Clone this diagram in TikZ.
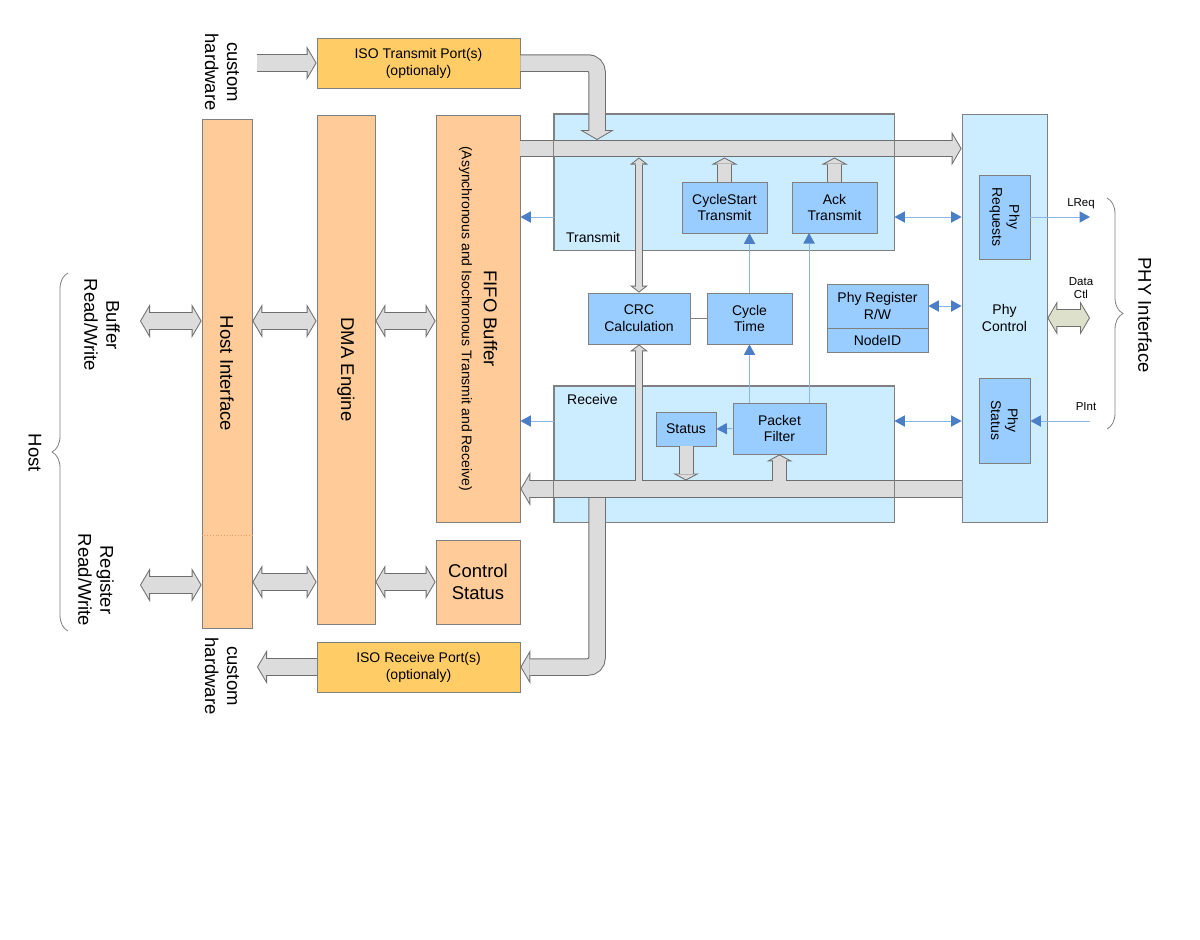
\documentclass[tikz,border=0pt]{standalone}
\usepackage{fontspec}
\setmainfont{Liberation Sans}
\usetikzlibrary{arrows.meta,decorations.pathreplacing}

\definecolor{peach}{HTML}{FFCC99}
\definecolor{isoyellow}{HTML}{FFCC66}
\definecolor{paleblue}{HTML}{CCECFF}
\definecolor{midblue}{HTML}{99CCFF}
\definecolor{boxline}{HTML}{808080}
\definecolor{pipefill}{HTML}{DCDCDC}
\definecolor{pipeline}{HTML}{6E6E6E}
\definecolor{ctlfill}{HTML}{DDE0CA}
\definecolor{wireblue}{HTML}{8DB4E2}
\definecolor{tipblue}{HTML}{4A7EC6}
\definecolor{splitline}{HTML}{D9A066}

\newcommand{\fsmall}{\fontsize{11.5}{13}\selectfont}
\newcommand{\fmid}{\fontsize{14}{16.8}\selectfont}
\newcommand{\fbig}{\fontsize{18.5}{22}\selectfont}

\begin{document}
\begin{tikzpicture}[x=1pt, y=-1pt, font=\fmid,
    hwbox/.style={draw=boxline, line width=0.8pt, inner sep=0pt, align=center},
    hostbox/.style={hwbox, fill=peach},
    isobox/.style={hwbox, fill=isoyellow},
    linkbox/.style={hwbox, fill=paleblue},
    unitbox/.style={hwbox, fill=midblue},
    vtext/.style={rotate=-90, align=center, inner sep=0pt},
    lbl/.style={inner sep=0pt, align=center},
    fatpipe/.style={draw=pipeline, line width=17.5pt,
        -{Triangle[length=10pt,width=34pt,line width=0pt]},
        postaction={draw=#1, line width=15.5pt, shorten >=1.16pt,
            -{Triangle[length=7.8pt,width=26.7pt,line width=0pt]}}},
    fatpipe/.default=pipefill,
    fatpipes/.style={draw=pipeline, line width=17.5pt,
        {Triangle[length=10pt,width=34pt,line width=0pt]}-{Triangle[length=10pt,width=34pt,line width=0pt]},
        postaction={draw=#1, line width=15.5pt, shorten >=1.16pt, shorten <=1.16pt,
            {Triangle[length=7.8pt,width=26.7pt,line width=0pt]}-{Triangle[length=7.8pt,width=26.7pt,line width=0pt]}}},
    fatpipes/.default=pipefill,
    midpipe/.style={draw=pipeline, line width=15pt,
        -{Triangle[length=7pt,width=26pt,line width=0pt]},
        postaction={draw=pipefill, line width=13pt, shorten >=1.14pt,
            -{Triangle[length=4.9pt,width=18.1pt,line width=0pt]}}},
    thinpipe/.style={draw=pipeline, line width=7.5pt,
        -{Triangle[length=7pt,width=18pt,line width=0pt]},
        postaction={draw=pipefill, line width=5.5pt, shorten >=1.27pt,
            -{Triangle[length=4.7pt,width=12.2pt,line width=0pt]}}},
    thinpipes/.style={draw=pipeline, line width=7.5pt,
        {Triangle[length=7pt,width=18pt,line width=0pt]}-{Triangle[length=7pt,width=18pt,line width=0pt]},
        postaction={draw=pipefill, line width=5.5pt, shorten >=1.27pt, shorten <=1.27pt,
            {Triangle[length=4.7pt,width=12.2pt,line width=0pt]}-{Triangle[length=4.7pt,width=12.2pt,line width=0pt]}}},
    wire/.style={draw=wireblue, line width=1pt,
        -{Triangle[length=10.5pt,width=11.5pt,line width=0pt,color=tipblue]}},
    wires/.style={draw=wireblue, line width=1pt,
        {Triangle[length=10.5pt,width=11.5pt,line width=0pt,color=tipblue]}-{Triangle[length=10.5pt,width=11.5pt,line width=0pt,color=tipblue]}},
    hwbrace/.style={draw=boxline, line width=0.8pt, decorate, decoration={brace, amplitude=16pt}}]

    \useasboundingbox (0,0) rectangle (1200,940);

    % Nodes {host side}
    \node [isobox,  minimum width=203, minimum height=50]  (isotx)  at (418.5,63)  {ISO Transmit Port(s)\\(optionaly)};
    \node [hostbox, minimum width=50,  minimum height=509,
           label={[vtext,font=\fbig]center:Host Interface}] (hostif) at (227,373.5) {};
    \node [hostbox, minimum width=58,  minimum height=509,
           label={[vtext,font=\fbig]center:DMA Engine}]     (dma)    at (346,369.5) {};
    \node [hostbox, minimum width=84,  minimum height=407,
           label={[vtext,font=\fbig]center:FIFO Buffer\\{\fmid (Asynchronous and Isochronous Transmit and Receive)}}] (fifo) at (478,318.5) {};
    \node [hostbox, minimum width=84,  minimum height=84, font=\fbig] (ctrl)  at (478,582)   {Control\\Status};
    \node [isobox,  minimum width=203, minimum height=50]  (isorx)  at (418.5,667) {ISO Receive Port(s)\\(optionaly)};

    % Nodes {link side}
    \node [linkbox, minimum width=340, minimum height=136] (trans)  at (724,182)    {};
    \node [linkbox, minimum width=340, minimum height=136] (recv)   at (724,454)    {};
    \node [linkbox, minimum width=85,  minimum height=408] (phyctl) at (1004.5,318) {Phy\\Control};
    \node [unitbox, minimum width=51,  minimum height=84,
           label={[vtext]center:Phy\\Requests}] (phyreq) at (1004.5,217)   {};
    \node [unitbox, minimum width=51,  minimum height=85,
           label={[vtext]center:Phy\\Status}]   (physt)  at (1004.5,420.5) {};
    \node [unitbox, minimum width=85,  minimum height=51]  (cstx)   at (724.5,207.5) {CycleStart\\Transmit};
    \node [unitbox, minimum width=85,  minimum height=51]  (acktx)  at (834.5,207.5) {Ack\\Transmit};
    \node [unitbox, minimum width=102, minimum height=51]  (crc)    at (639,318.5)   {CRC\\Calculation};
    \node [unitbox, minimum width=85,  minimum height=51]  (cyc)    at (749.5,318.5) {Cycle\\Time};
    \node [unitbox, minimum width=101, minimum height=44]  (phyreg) at (877.5,306)   {Phy Register\\R/W};
    \node [unitbox, minimum width=101, minimum height=24]  (nodeid) at (877.5,340)   {NodeID};
    \node [unitbox, minimum width=60,  minimum height=34]  (status) at (686,429)     {Status};
    \node [unitbox, minimum width=93,  minimum height=51]  (pfilt)  at (779.5,428.5) {Packet\\Filter};

    % Labels
    \node [lbl, anchor=west]      (txlbl)   at (566,237)  {Transmit};
    \node [lbl, anchor=west]      (rxlbl)   at (567,399)  {Receive};
    \node [vtext, font=\fbig]     (cwtop)   at (222,72)   {custom\\hardware};
    \node [vtext, font=\fbig]     (cwbot)   at (222,676)  {custom\\hardware};
    \node [vtext, font=\fbig]     (bufrw)   at (102,325)  {Buffer\\Read/Write};
    \node [vtext, font=\fbig]     (regrw)   at (96,580)   {Register\\Read/Write};
    \node [vtext, font=\fbig]     (hostlbl) at (35,453)   {Host};
    \node [vtext, font=\fbig]     (phyif)   at (1145,315) {PHY Interface};
    \node [lbl, font=\fsmall]     (lreqlbl) at (1081,204) {LReq};
    \node [lbl, font=\fsmall]     (datalbl) at (1081,288) {Data\\Ctl};
    \node [lbl, font=\fsmall]     (pintlbl) at (1086,407) {PInt};

    % Points
    \coordinate (txin)    at (257,63);
    \coordinate (rxout)   at (257,667);
    \coordinate (txdrop)  at (597,140);
    \coordinate (rxtap)   at (597,498);
    \coordinate (txbus)   at (740,148.5);
    \coordinate (rxbus)   at (740,489);
    \coordinate (txedge)  at (740,157.5);
    \coordinate (rxedge)  at (740,480.5);
    \coordinate (hostbuf) at (140,321);
    \coordinate (hostreg) at (140,585);
    \coordinate (dmarow)  at (300,582);
    \coordinate (lreq)    at (1090,217);
    \coordinate (pint)    at (1090,421);
    \coordinate (datactl) at (1090,318);
    \coordinate (ackin)   at (809,233);
    \coordinate (hsplit)  at (227,535);
    \coordinate (hostbrA) at (68,631);
    \coordinate (hostbrB) at (68,273);
    \coordinate (phybrA)  at (1107,198);
    \coordinate (phybrB)  at (1107,429);

    % Paths {gray pipes}
    \draw [fatpipe]  (txin) -- (isotx.west);
    \draw [fatpipe]  (isorx.west) -- (rxout);
    \draw [fatpipes] (hostbuf) -- (hostif.west |- hostbuf);
    \draw [fatpipes] (hostif.east |- hostbuf) -- (dma.west |- hostbuf);
    \draw [fatpipes] (dma.east |- hostbuf) -- (fifo.west |- hostbuf);
    \draw [fatpipes] (hostreg) -- (hostif.west |- hostreg);
    \draw [fatpipes] (hostif.east |- dmarow) -- (dma.west |- dmarow);
    \draw [fatpipes] (dma.east |- ctrl) -- (ctrl.west);
    \draw [fatpipe]  (fifo.east |- txbus) -- (phyctl.west |- txbus);
    \draw [fatpipe]  (phyctl.west |- rxbus) -- (fifo.east |- rxbus);
    \draw [fatpipes=ctlfill] (phyctl.east |- datactl) -- (datactl);

    \draw [hwbox] (trans.south west) rectangle (trans.north east);
    \draw [hwbox] (recv.south west) rectangle (recv.north east);

    \draw [fatpipe, rounded corners=9pt] (isotx.east) -| (txdrop);
    \draw [fatpipe, rounded corners=9pt] (rxtap) |- (isorx.east);
    \draw [midpipe]   (cstx.north) -- (cstx.north |- txedge);
    \draw [midpipe]   (acktx.north) -- (acktx.north |- txedge);
    \draw [midpipe]   (status.south) -- (status.south |- rxedge);
    \draw [midpipe]   (pfilt.south |- rxedge) -- (pfilt.south);
    \draw [thinpipes] (crc.north) -- (crc.north |- txedge);
    \draw [thinpipe]  (crc.south |- rxedge) -- (crc.south);

    % Paths {blue wires}
    \draw [wire]  (trans.west |- phyreq) -- (fifo.east |- phyreq);
    \draw [wire]  (recv.west |- pint) -- (fifo.east |- pint);
    \draw [wires] (trans.east |- phyreq) -- (phyctl.west |- phyreq);
    \draw [wires] (recv.east |- pint) -- (phyctl.west |- pint);
    \draw [wires] (phyreg.east) -- (phyctl.west |- phyreg);
    \draw [wire]  (phyreq.east) -- (lreq);
    \draw [wire]  (pint) -- (physt.east |- pint);
    \draw [wire]  (cyc.north) -- (cstx.south -| cyc.north);
    \draw [wire]  (pfilt.north -| cyc.south) -- (cyc.south);
    \draw [wire]  (pfilt.north -| ackin) -- (ackin);
    \draw [wire]  (pfilt.west) -- (status.east);
    \draw [draw=boxline, line width=0.8pt] (crc.east) -- (cyc.west);

    % Other
    \draw [splitline, dotted, line width=0.8pt] (hostif.west |- hsplit) -- (hostif.east |- hsplit);
    \draw [hwbrace] (hostbrA) -- (hostbrB);
    \draw [hwbrace] (phybrA) -- (phybrB);
\end{tikzpicture}
\end{document}
